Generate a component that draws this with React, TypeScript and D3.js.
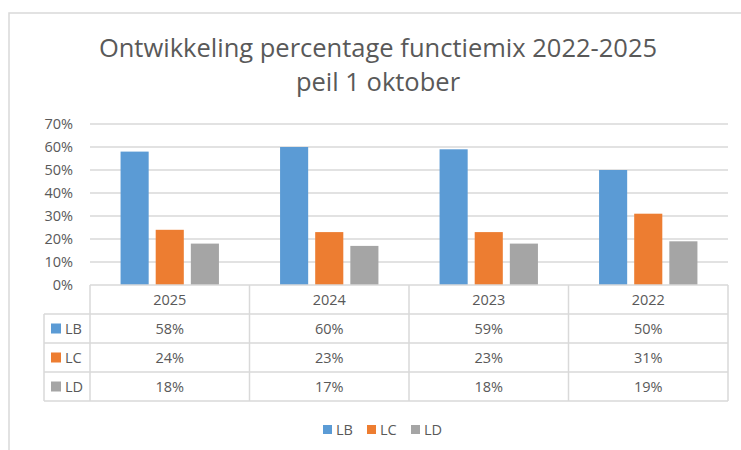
import React from 'react';
import * as d3 from 'd3';

const categories = ['2025', '2024', '2023', '2022'];
const seriesNames = ['LB', 'LC', 'LD'];
const lbValues = [58, 60, 59, 50];
const lcValues = [24, 23, 23, 31];
const ldValues = [18, 17, 18, 19];
const yTicks = [0, 10, 20, 30, 40, 50, 60, 70];
const colors = ['#5B9BD5', '#ED7D31', '#A5A5A5'];

const W = 741;
const H = 450;
const font = '"Open Sans", "Noto Sans", sans-serif';
const textColor = '#595959';
const lineColor = '#D9D9D9';
const fs = 14.5;

export default function App() {
  const series = [lbValues, lcValues, ldValues];

  const left = 90;
  const right = 728;
  const top = 124;
  const bottom = 285;
  const rowH = 29;
  const tableLeft = 44;

  const x = d3.scaleBand().domain(categories).range([left, right]).paddingInner(0).paddingOuter(0);
  const inner = d3.scaleBand().domain(seriesNames).range([0, x.bandwidth()]).paddingInner(0.2).paddingOuter(0.87);
  const y = d3.scaleLinear().domain([0, 70]).range([bottom, top]);

  const tableBottom = bottom + rowH * 4;

  return (
    <div style={{ position: 'absolute', left: 0, top: 0 }}>
      <svg width={W} height={H} style={{ display: 'block', background: '#fff' }}>
        {/* chart frame */}
        <path d={`M9,${H} V13 H${W}`} fill="none" stroke={lineColor} strokeWidth={1.5} />

        <g fontFamily={font} fill={textColor} textAnchor="middle">
          <text x={378} y={57} fontSize={25.5}>Ontwikkeling percentage functiemix 2022-2025</text>
          <text x={378} y={91} fontSize={25.5}>peil 1 oktober</text>
        </g>

        {/* gridlines + y labels */}
        {yTicks.map(t => (
          <g key={t}>
            {t > 0 && (
              <line x1={left} x2={right} y1={y(t)} y2={y(t)} stroke={lineColor} strokeWidth={1.5} />
            )}
            <text x={73} y={y(t) + 5} textAnchor="end" fontFamily={font} fontSize={fs} fill={textColor}>
              {t}%
            </text>
          </g>
        ))}

        {/* bars */}
        {categories.map((c, i) => (
          <g key={c} transform={`translate(${x(c)},0)`}>
            {series.map((vals, s) => (
              <rect
                key={s}
                x={inner(seriesNames[s])}
                y={y(vals[i])}
                width={inner.bandwidth()}
                height={bottom - y(vals[i])}
                fill={colors[s]}
              />
            ))}
          </g>
        ))}

        {/* data table */}
        <g stroke={lineColor} strokeWidth={1.5} fill="none">
          <line x1={left} x2={right} y1={bottom} y2={bottom} />
          {[1, 2, 3, 4].map(r => (
            <line key={r} x1={tableLeft} x2={right} y1={bottom + rowH * r} y2={bottom + rowH * r} />
          ))}
          <line x1={tableLeft} x2={tableLeft} y1={bottom + rowH} y2={tableBottom} />
          {categories.map(c => (
            <line key={c} x1={x(c)} x2={x(c)} y1={bottom} y2={tableBottom} />
          ))}
          <line x1={right} x2={right} y1={bottom} y2={tableBottom} />
        </g>

        <g fontFamily={font} fontSize={fs} fill={textColor} textAnchor="middle">
          {categories.map((c, i) => (
            <g key={c}>
              <text x={x(c)! + x.bandwidth() / 2} y={bottom + rowH / 2 + 5}>{c}</text>
              {series.map((vals, s) => (
                <text key={s} x={x(c)! + x.bandwidth() / 2} y={bottom + rowH * (s + 1) + rowH / 2 + 5}>
                  {vals[i]}%
                </text>
              ))}
            </g>
          ))}
          {seriesNames.map((n, s) => (
            <g key={n}>
              <rect x={51} y={bottom + rowH * (s + 1) + rowH / 2 - 5} width={10} height={10} fill={colors[s]} />
              <text x={65} y={bottom + rowH * (s + 1) + rowH / 2 + 5} textAnchor="start">{n}</text>
            </g>
          ))}
        </g>

        {/* legend */}
        <g fontFamily={font} fontSize={fs} fill={textColor}>
          {seriesNames.map((n, s) => (
            <g key={n} transform={`translate(${323 + s * 44},430)`}>
              <rect x={0} y={-5} width={9} height={9} fill={colors[s]} />
              <text x={13} y={5}>{n}</text>
            </g>
          ))}
        </g>
      </svg>
    </div>
  );
}
